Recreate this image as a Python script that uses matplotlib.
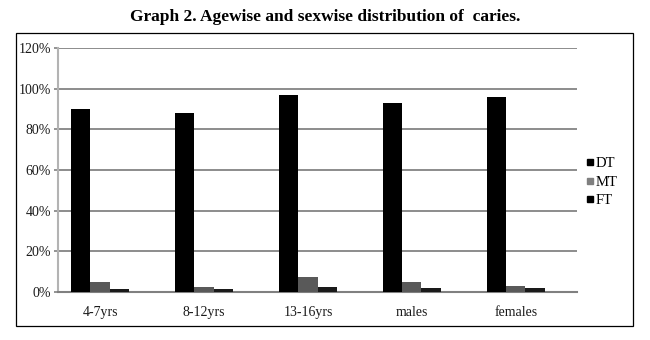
import numpy as np
import matplotlib.pyplot as plt
from matplotlib.patches import Rectangle
from matplotlib.lines import Line2D

plt.rcParams["font.family"] = ["Liberation Serif", "DejaVu Serif"]

categories = ["4-7yrs", "8-12yrs", "13-16yrs", "males", "females"]
dt = [90, 88, 97, 93, 96]
mt = [5, 2.5, 7.5, 5, 3]
ft = [1.5, 1.5, 2.5, 2, 2]
series_names = ["DT", "MT", "FT"]
colors = ["#000000", "#595959", "#1a1a1a"]
legend_colors = ["#000000", "#7f7f7f", "#000000"]

W, H = 650, 340
fig = plt.figure(figsize=(6.5, 3.4), dpi=100)

# outer chart frame
fig.patches.append(Rectangle((16 / W, 1 - 326 / H), 617 / W, 293 / H,
                             transform=fig.transFigure, fill=False,
                             edgecolor="black", lw=0.9))

ax = fig.add_axes([58 / W, 1 - 292 / H, 519 / W, 244 / H])

x = np.arange(len(categories))
bw = 0.183
for i, (vals, c) in enumerate(zip([dt, mt, ft], colors)):
    ax.bar(x + (i - 1) * bw, vals, width=bw, color=c, zorder=3)

ax.set_xlim(-0.404, 4.587)
ax.set_ylim(0, 120)
ax.set_yticks(np.arange(0, 121, 20))
ax.set_yticklabels([f"{v}%" for v in range(0, 121, 20)])
ax.set_xticks(x)
ax.set_xticklabels(categories)

ax.yaxis.grid(True, color="#8c8c8c", lw=1.4, zorder=0)
for s in ["top", "right"]:
    ax.spines[s].set_visible(False)
ax.spines["left"].set_color("#b3b3b3")
ax.spines["left"].set_linewidth(1.5)
ax.spines["bottom"].set_color("#808080")
ax.spines["bottom"].set_linewidth(1.5)
ax.tick_params(axis="x", length=0, pad=10, labelsize=10, colors="#1a1a1a")
ax.tick_params(axis="y", length=3, width=1.2, color="#808080", labelsize=10,
               labelcolor="#1a1a1a", pad=2)

handles = [Line2D([], [], marker="s", ls="", color=c, markersize=5)
           for c in legend_colors]
fig.legend(handles, series_names, loc="center left",
           bbox_to_anchor=(580 / W, 1 - 182 / H), frameon=False,
           fontsize=10.5, handlelength=0.6, handletextpad=0.1,
           labelspacing=0.35, borderaxespad=0)

fig.text(325 / W, 1 - 17 / H, "Graph 2. Agewise and sexwise distribution of  caries.",
         ha="center", va="center", fontsize=12.5, fontweight="bold")

fig.savefig("out.png", dpi=100)
